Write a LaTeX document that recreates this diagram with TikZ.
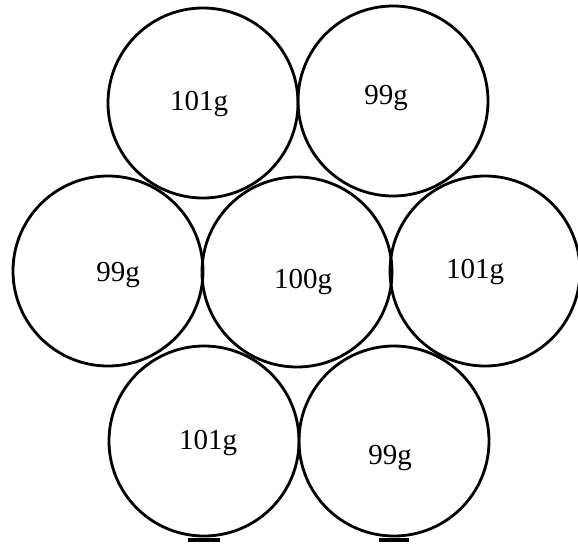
\documentclass[tikz,border=0pt]{standalone}
\usepackage{fontspec}
\setmainfont{Liberation Serif}
\usetikzlibrary{positioning}

\begin{document}
\begin{tikzpicture}[x=1pt,y=-1pt,
  ball/.style={draw,circle,line width=2.8pt,minimum size=190pt,inner sep=0pt},
  wt/.style={font=\fontsize{29}{32}\selectfont,inner sep=0pt,anchor=base},
  tick/.style={line width=4pt}]
\useasboundingbox (0,0) rectangle (578,552);
% seven weights in a hexagon
\node[ball] (tl) at (203,103) {};
\node[ball] (tr) at (393,101) {};
\node[ball] (ml) at (108,271) {};
\node[ball] (mc) at (297,272) {};
\node[ball] (mr) at (485,271) {};
\node[ball] (bl) at (204,441) {};
\node[ball] (br) at (394,441) {};
% labels
\node[wt] (wtl) at (199,110) {101g};
\node[wt] (wtr) at (386,104) {99g};
\node[wt] (wml) at (118,281) {99g};
\node[wt] (wmc) at (303,288) {100g};
\node[wt] (wmr) at (475,278) {101g};
\node[wt] (wbl) at (208,449) {101g};
\node[wt] (wbr) at (390,464) {99g};
% small marks
\draw[tick] ([xshift=-16pt,yshift=-3pt]bl.south) -- ([xshift=16pt,yshift=-3pt]bl.south);
\draw[tick] ([xshift=-15pt,yshift=-3pt]br.south) -- ([xshift=15pt,yshift=-3pt]br.south);
\draw[line width=2pt] ([xshift=1pt,yshift=-12pt]ml.west) -- ([xshift=1pt,yshift=12pt]ml.west);
\end{tikzpicture}
\end{document}
